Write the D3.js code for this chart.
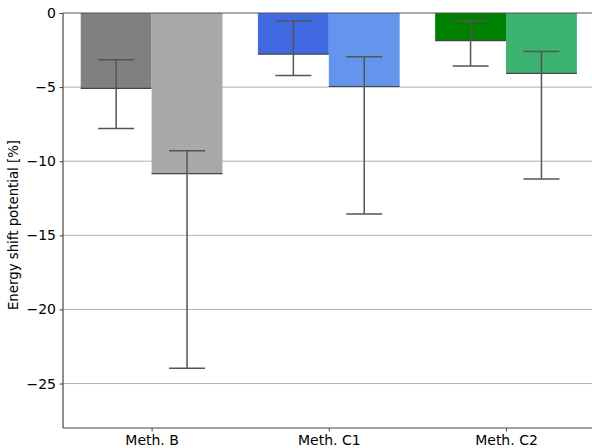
<!DOCTYPE html>
<html><head><meta charset="utf-8">
<script src="https://cdn.jsdelivr.net/npm/d3@7"></script>
<style>body{margin:0;background:#fff}svg{display:block}text{font-family:"DejaVu Sans",sans-serif}</style>
</head><body><svg id="c" width="592" height="448"></svg>
<script>
const categories = ["Meth. B", "Meth. C1", "Meth. C2"];
const valuesA = [-5.09, -2.77, -1.87];
const valuesB = [-10.84, -4.96, -4.08];
const errTopA = [-3.16, -0.54, -0.50];
const errBotA = [-7.80, -4.22, -3.58];
const errTopB = [-9.30, -2.95, -2.59];
const errBotB = [-23.97, -13.56, -11.20];
const colorsA = ["#808080", "#4169e1", "#008000"];
const colorsB = ["#a9a9a9", "#6495ed", "#3cb371"];
const yTicks = [0, -5, -10, -15, -20, -25];

(function () {
const svg = d3.select("#c");
const pLeft = 63, pTop = 13, pBottom = 428;
const unit = 177.2;
const x = d3.scaleLinear().domain([-0.5, 2.5]).range([pLeft, pLeft + 3 * unit]);
const y = d3.scaleLinear().domain([-28, 0]).range([pBottom, pTop]);
const bw = 0.4;
const fs = 14;

// gridlines
svg.append("g").selectAll("line").data(yTicks.filter(t => t !== 0)).join("line")
  .attr("x1", pLeft).attr("x2", 592).attr("y1", d => y(d)).attr("y2", d => y(d))
  .attr("stroke", "#b0b0b0").attr("stroke-width", 1);

const series = [
  {vals: valuesA, hi: errTopA, lo: errBotA, cols: colorsA, off: -bw / 2},
  {vals: valuesB, hi: errTopB, lo: errBotB, cols: colorsB, off: bw / 2}
];
series.forEach(s => {
  const g = svg.append("g");
  categories.forEach((c, i) => {
    const cx = i + s.off;
    g.append("rect").attr("x", x(cx - bw / 2)).attr("width", x(cx + bw / 2) - x(cx - bw / 2))
      .attr("y", y(0)).attr("height", y(s.vals[i]) - y(0)).attr("fill", s.cols[i]);
    g.append("line").attr("x1", x(cx - bw / 2)).attr("x2", x(cx + bw / 2))
      .attr("y1", y(s.vals[i])).attr("y2", y(s.vals[i])).attr("stroke", "#444").attr("stroke-width", 1.2);
  });
});
series.forEach(s => {
  const g = svg.append("g").attr("stroke", "#555").attr("stroke-width", 1.5);
  categories.forEach((c, i) => {
    const px = x(i + s.off);
    g.append("line").attr("x1", px).attr("x2", px).attr("y1", y(s.hi[i])).attr("y2", y(s.lo[i]));
    [s.hi[i], s.lo[i]].forEach(v => {
      g.append("line").attr("x1", px - 18).attr("x2", px + 18).attr("y1", y(v)).attr("y2", y(v));
    });
  });
});

// zero line
svg.append("line").attr("x1", pLeft).attr("x2", 592).attr("y1", y(0)).attr("y2", y(0))
  .attr("stroke", "#555").attr("stroke-width", 1.2);

// axes
const yAxis = d3.axisLeft(y).tickValues(yTicks).tickSize(3.5).tickPadding(3.5)
  .tickFormat(d => d === 0 ? "0" : "\u2212" + Math.abs(d));
const gy = svg.append("g").attr("transform", `translate(${pLeft},0)`).call(yAxis);
gy.select(".domain").attr("stroke", "#444").attr("stroke-width", 1.2).attr("d", `M0,${pTop}V${pBottom}`);
gy.selectAll(".tick line").attr("stroke", "#444");
gy.attr("font-size", fs).attr("font-family", "DejaVu Sans");
gy.selectAll("text").attr("fill", "#000");

const xAxis = d3.axisBottom(x).tickValues([0, 1, 2]).tickFormat(i => categories[i]).tickSize(3.5).tickPadding(3.5);
const gx = svg.append("g").attr("transform", `translate(0,${pBottom})`).call(xAxis);
gx.select(".domain").attr("stroke", "#444").attr("stroke-width", 1.2).attr("d", `M${pLeft},0H592`);
gx.selectAll(".tick line").attr("stroke", "#444");
gx.attr("font-size", fs).attr("font-family", "DejaVu Sans");
gx.selectAll("text").attr("fill", "#000");

svg.append("text").attr("transform", `translate(18,225) rotate(-90)`)
  .attr("text-anchor", "middle").attr("font-size", 13.3).text("Energy shift potential [%]");
})();
</script></body></html>
